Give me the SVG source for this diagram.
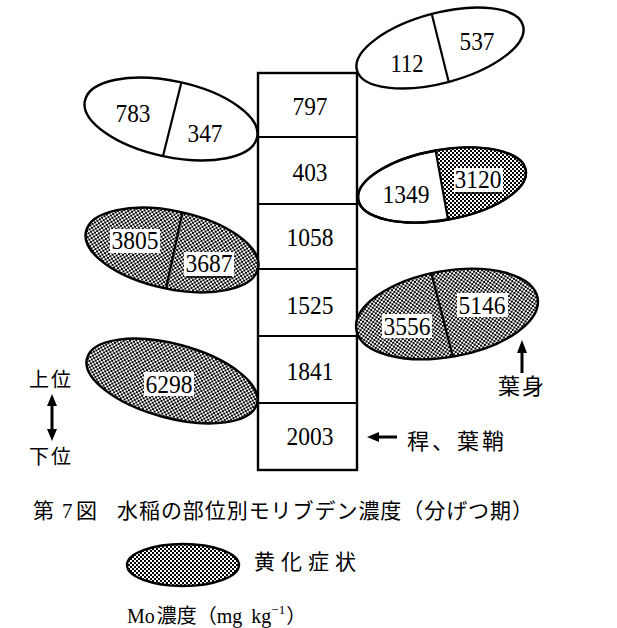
<svg xmlns="http://www.w3.org/2000/svg" width="617" height="628" viewBox="0 0 617 628">
  <style>
    .leaf { fill: #fff; stroke: #000; stroke-width: 2.4; }
    .hatch { fill: url(#dots); stroke: none; }
    .rim { fill: none; stroke: #000; stroke-width: 2.4; }
    .div { stroke: #000; stroke-width: 2.2; fill: none; }
    .stem { fill: #fff; stroke: #000; stroke-width: 2.4; }
    .num { font-family: "Liberation Serif", "Times New Roman", serif; font-size: 26px; fill: #000; text-anchor: middle; }
    .jp { font-family: "Noto Sans CJK JP", "Noto Sans", sans-serif; fill: #000; }
    .serif { font-family: "Liberation Serif", "Times New Roman", serif; }
    .lab { fill: #fff; stroke: none; }
    .ul { stroke: #000; stroke-width: 1.5; }
    .arrow { stroke: #000; stroke-width: 3; fill: none; }
  </style>
  <defs>
    <!-- dot screen used for the yellowed (chlorotic) leaves -->
    <pattern id="dots" width="4" height="4" patternUnits="userSpaceOnUse">
      <rect width="4" height="4" fill="#fff"/>
      <rect x="0" y="0" width="2" height="2" fill="#000"/>
      <rect x="2" y="2" width="2" height="2" fill="#000"/>
    </pattern>
    <clipPath id="c1"><ellipse cx="171" cy="119" rx="88" ry="38" transform="rotate(12 171 119)"/></clipPath>
    <clipPath id="c2"><ellipse cx="440" cy="48" rx="86" ry="35" transform="rotate(-15 440 48)"/></clipPath>
    <clipPath id="c3"><ellipse cx="442" cy="185" rx="85" ry="35" transform="rotate(-10 442 185)"/></clipPath>
    <clipPath id="c4"><ellipse cx="172" cy="250" rx="88" ry="39" transform="rotate(12 172 250)"/></clipPath>
    <clipPath id="c5"><ellipse cx="447" cy="314" rx="92" ry="43" transform="rotate(-10 447 314)"/></clipPath>
  </defs>

  <!-- stem: culm and leaf sheaths, top to bottom -->
  <g id="stem">
    <rect class="stem" x="258" y="73" width="99" height="397"/>
    <line class="div" x1="258" y1="137" x2="357" y2="137"/>
    <line class="div" x1="258" y1="204" x2="357" y2="204"/>
    <line class="div" x1="258" y1="269" x2="357" y2="269"/>
    <line class="div" x1="258" y1="336" x2="357" y2="336"/>
    <line class="div" x1="258" y1="403" x2="357" y2="403"/>
    <text class="num" x="310" y="115" textLength="35" lengthAdjust="spacingAndGlyphs">797</text>
    <text class="num" x="310" y="181" textLength="35" lengthAdjust="spacingAndGlyphs">403</text>
    <text class="num" x="310" y="246" textLength="47" lengthAdjust="spacingAndGlyphs">1058</text>
    <text class="num" x="310" y="314" textLength="47" lengthAdjust="spacingAndGlyphs">1525</text>
    <text class="num" x="310" y="380" textLength="47" lengthAdjust="spacingAndGlyphs">1841</text>
    <text class="num" x="310" y="445" textLength="47" lengthAdjust="spacingAndGlyphs">2003</text>
  </g>

  <!-- leaf blades -->
  <g id="leaf-left-1">
    <ellipse class="leaf" cx="171" cy="119" rx="88" ry="38" transform="rotate(12 171 119)"/>
    <line class="div" x1="184" y1="72" x2="160" y2="168" clip-path="url(#c1)"/>
    <text class="num" x="133" y="122" textLength="35" lengthAdjust="spacingAndGlyphs">783</text>
    <text class="num" x="205" y="142" textLength="35" lengthAdjust="spacingAndGlyphs">347</text>
  </g>

  <g id="leaf-right-1">
    <ellipse class="leaf" cx="440" cy="48" rx="86" ry="35" transform="rotate(-15 440 48)"/>
    <line class="div" x1="429" y1="3" x2="453" y2="99" clip-path="url(#c2)"/>
    <text class="num" x="407" y="72" textLength="33" lengthAdjust="spacingAndGlyphs">112</text>
    <text class="num" x="477" y="50" textLength="35" lengthAdjust="spacingAndGlyphs">537</text>
  </g>

  <g id="leaf-right-2">
    <ellipse class="leaf" cx="442" cy="185" rx="85" ry="35" transform="rotate(-10 442 185)"/>
    <polygon class="hatch" points="412,140 436,146 450,232 540,232 540,140" clip-path="url(#c3)"/>
    <ellipse class="rim" cx="442" cy="185" rx="85" ry="35" transform="rotate(-10 442 185)"/>
    <line class="div" x1="433" y1="136" x2="451" y2="236" clip-path="url(#c3)"/>
    <rect class="lab" x="454" y="168" width="49" height="24"/>
    <line class="ul" x1="455" y1="193" x2="502" y2="193"/>
    <text class="num" x="406" y="203" textLength="47" lengthAdjust="spacingAndGlyphs">1349</text>
    <text class="num" x="478" y="188" textLength="47" lengthAdjust="spacingAndGlyphs">3120</text>
  </g>

  <g id="leaf-left-2">
    <ellipse class="hatch" cx="172" cy="250" rx="88" ry="39" transform="rotate(12 172 250)"/>
    <ellipse class="rim" cx="172" cy="250" rx="88" ry="39" transform="rotate(12 172 250)"/>
    <line class="div" x1="185" y1="200" x2="164" y2="298" clip-path="url(#c4)"/>
    <rect class="lab" x="110" y="229" width="50" height="24"/>
    <rect class="lab" x="184" y="252" width="50" height="24"/>
    <line class="ul" x1="186" y1="277" x2="232" y2="277"/>
    <text class="num" x="135" y="249" textLength="47" lengthAdjust="spacingAndGlyphs">3805</text>
    <text class="num" x="209" y="272" textLength="47" lengthAdjust="spacingAndGlyphs">3687</text>
  </g>

  <g id="leaf-right-3">
    <ellipse class="hatch" cx="447" cy="314" rx="92" ry="43" transform="rotate(-10 447 314)"/>
    <ellipse class="rim" cx="447" cy="314" rx="92" ry="43" transform="rotate(-10 447 314)"/>
    <line class="div" x1="428" y1="260" x2="455" y2="365" clip-path="url(#c5)"/>
    <rect class="lab" x="382" y="314" width="50" height="24"/>
    <rect class="lab" x="457" y="293" width="51" height="24"/>
    <text class="num" x="407" y="335" textLength="47" lengthAdjust="spacingAndGlyphs">3556</text>
    <text class="num" x="482" y="314" textLength="47" lengthAdjust="spacingAndGlyphs">5146</text>
  </g>

  <g id="leaf-left-3">
    <ellipse class="hatch" cx="172" cy="381" rx="88" ry="37" transform="rotate(15 172 381)"/>
    <ellipse class="rim" cx="172" cy="381" rx="88" ry="37" transform="rotate(15 172 381)"/>
    <rect class="lab" x="144" y="372" width="50" height="24"/>
    <text class="num" x="169" y="393" textLength="47" lengthAdjust="spacingAndGlyphs">6298</text>
  </g>

  <!-- pointers and orientation labels -->
  <g id="connectors">
    <line class="arrow" x1="397" y1="437" x2="376" y2="437"/>
    <polygon points="367,437 379,432 379,442" fill="#000"/>
    <line class="arrow" x1="522" y1="373" x2="522" y2="350"/>
    <polygon points="522,340 517,353 527,353" fill="#000"/>
    <line class="arrow" x1="52" y1="404" x2="52" y2="431"/>
    <polygon points="52,394 47,406 57,406" fill="#000"/>
    <polygon points="52,441 47,429 57,429" fill="#000"/>
  </g>

  <g id="labels">
    <text class="jp" x="407" y="449" font-size="22" letter-spacing="3">稈、葉鞘</text>
    <text class="jp" x="498" y="394" font-size="22" letter-spacing="2">葉身</text>
    <text class="jp" x="29" y="387" font-size="20" letter-spacing="2">上位</text>
    <text class="jp" x="29" y="464" font-size="20" letter-spacing="2">下位</text>
  </g>

  <!-- caption and legend -->
  <g id="caption">
    <text class="jp" x="33" y="518" font-size="21">第</text>
    <text class="serif" x="62" y="518" font-size="21">7</text>
    <text class="jp" x="76" y="518" font-size="21">図</text>
    <text class="jp" x="117" y="518" font-size="21" textLength="416" lengthAdjust="spacing">水稲の部位別モリブデン濃度（分げつ期）</text>
  </g>
  <g id="legend">
    <ellipse class="hatch" cx="183" cy="565" rx="56" ry="21"/>
    <ellipse class="rim" cx="183" cy="565" rx="56" ry="21"/>
    <text class="jp" x="254" y="569" font-size="21" letter-spacing="6">黄化症状</text>
    <text x="127" y="623" font-size="20" fill="#000"><tspan class="serif">Mo</tspan><tspan class="jp" dx="2">濃度（</tspan><tspan class="serif">mg</tspan><tspan class="serif" dx="9">kg</tspan><tspan class="serif" font-size="13" dy="-9">−1</tspan><tspan class="jp" dy="9" dx="1">）</tspan></text>
  </g>
</svg>
